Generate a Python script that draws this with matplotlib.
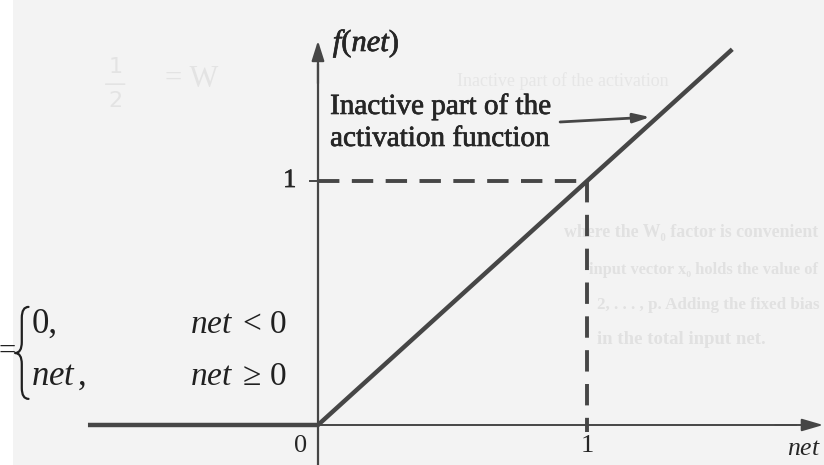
import matplotlib
matplotlib.use("Agg")
import matplotlib.pyplot as plt
import matplotlib.patheffects as pe
from matplotlib.patches import Rectangle, PathPatch
from matplotlib.path import Path

plt.rcParams["mathtext.fontset"] = "custom"
plt.rcParams["mathtext.rm"] = "Liberation Serif"
plt.rcParams["mathtext.it"] = "Liberation Serif:italic"

# ReLU curve: f(net) = max(0, net)
net_vals = [-0.855, 0.0, 1.54]
f_vals = [0.0, 0.0, 1.54]

# reference point (1, 1) marked with dashed guides
ref_x = 1.0
ref_y = 1.0

x_ticks = [0, 1]
x_tick_labels = ["0", "1"]
y_ticks = [1]
y_tick_labels = ["1"]

INK = "#464646"
TXT = "#262626"
SERIF = "Liberation Serif"
# slightly heavier printed look for the figure text
heavy = [pe.withStroke(linewidth=0.5, foreground=TXT)]

fig = plt.figure(figsize=(8.24, 4.65), dpi=100)
fig.patch.set_facecolor("#f3f3f3")
ax = fig.add_axes([0, 0, 1, 1])
ax.set_xlim(-1.182, 1.881)
ax.set_ylim(-0.164, 1.742)
ax.axis("off")
ax.set_facecolor("#f3f3f3")

# white margin strip on the left edge of the page
ax.add_patch(Rectangle((0, 0), 0.016, 1, transform=ax.transAxes,
                       facecolor="white", edgecolor="none", zorder=0))

# faint print showing through from the other side of the page
ghost = "#e1e1e1"
ghost_lines = [
    (0.685, 0.50, "where the W\u2080 factor is convenient"),
    (0.715, 0.42, "input vector x\u2080 holds the value of"),
    (0.725, 0.345, "2, . . . , p. Adding the fixed bias"),
    (0.725, 0.27, "in the total input net."),
]
renderer = fig.canvas.get_renderer()
fig_w = fig.bbox.width
for gx, gy, gt in ghost_lines:
    t = ax.text(gx, gy, gt, transform=ax.transAxes, fontsize=13.5, color=ghost,
                family=SERIF, fontweight="bold", ha="left", va="center",
                zorder=0.5)
    # shrink the line until it sits inside the page
    while t.get_window_extent(renderer).x1 > fig_w - 4 and t.get_fontsize() > 6:
        t.set_fontsize(t.get_fontsize() - 0.25)
ax.text(0.555, 0.815, "Inactive part of the activation", transform=ax.transAxes,
        fontsize=13, color="#e6e6e6", family=SERIF, zorder=0.5)
ax.text(0.14, 0.82, "1\n\u2014\n2", transform=ax.transAxes, fontsize=16,
        color="#e3e3e3", family="DejaVu Sans", ha="center", va="center",
        linespacing=0.8, zorder=0.5)
ax.text(0.20, 0.83, "= W", transform=ax.transAxes, fontsize=22,
        color="#e3e3e3", family=SERIF, ha="left", va="center", zorder=0.5)

# axes with arrow heads
ax.plot([0, 1.78], [0, 0], color=INK, lw=1.4, zorder=2, solid_capstyle="butt")
ax.annotate("", xy=(1.878, 0), xytext=(1.70, 0), annotation_clip=False,
            arrowprops=dict(arrowstyle="-|>,head_length=1.3,head_width=0.38",
                            color=INK, lw=1.4, shrinkA=0, shrinkB=0), zorder=3)
ax.plot([0, 0], [-0.17, 1.48], color=INK, lw=1.6, zorder=2, solid_capstyle="butt")
ax.annotate("", xy=(0, 1.575), xytext=(0, 1.40), annotation_clip=False,
            arrowprops=dict(arrowstyle="-|>,head_length=1.2,head_width=0.38",
                            color=INK, lw=1.6, shrinkA=0, shrinkB=0), zorder=3)

# ReLU line
ax.plot(net_vals, f_vals, color=INK, lw=3.2, zorder=4, solid_capstyle="butt")

# dashed guides to (1, 1)
ax.plot([0, ref_x], [ref_y, ref_y], color=INK, lw=2.8, dashes=(5.5, 3.2),
        zorder=3, dash_capstyle="butt")
ax.plot([ref_x, ref_x], [ref_y, -0.03], color=INK, lw=2.8, dashes=(5.5, 3.2),
        zorder=3, dash_capstyle="butt")
ax.plot([-0.03, 0], [ref_y, ref_y], color=INK, lw=1.4, zorder=3)

# tick labels
ax.text(x_ticks[0] - 0.065, -0.085, x_tick_labels[0], family=SERIF,
        fontsize=19, color=TXT, ha="center", va="center")
ax.text(x_ticks[1], -0.085, x_tick_labels[1], family=SERIF,
        fontsize=19, color=TXT, ha="center", va="center")
ax.text(-0.105, y_ticks[0], y_tick_labels[0], family=SERIF,
        fontsize=19, color=TXT, ha="center", va="center", path_effects=heavy)

# axis titles
ax.text(1.808, -0.095, "$net$", fontsize=18.5, color=TXT,
        ha="center", va="center")
ax.text(0.055, 1.565, "$f(net)$", fontsize=22, color=TXT,
        ha="left", va="center", path_effects=heavy)

# annotation
ax.text(0.045, 1.24, "Inactive part of the\nactivation function", family=SERIF,
        fontsize=21, color=TXT, ha="left", va="center", linespacing=1.3,
        path_effects=heavy)
ax.annotate("", xy=(1.235, 1.262), xytext=(0.90, 1.242),
            arrowprops=dict(arrowstyle="-|>,head_length=1.0,head_width=0.28",
                            color=INK, lw=2.0, shrinkA=0, shrinkB=0), zorder=5)

# piecewise definition
ax.text(-1.186, 0.30, "=", family=SERIF, fontsize=22, color="#202020",
        ha="left", va="center")

# curly brace grouping the two cases
b_top, b_mid, b_bot = 0.484, 0.295, 0.107
x_tip, x_stem, x_cusp = -1.076, -1.101, -1.126
d = 0.045
brace = Path(
    [(x_tip, b_top), (x_stem, b_top), (x_stem, b_top - d),
     (x_stem, b_mid + d), (x_stem, b_mid), (x_cusp, b_mid),
     (x_stem, b_mid), (x_stem, b_mid - d),
     (x_stem, b_bot + d), (x_stem, b_bot), (x_tip, b_bot)],
    [Path.MOVETO, Path.CURVE3, Path.CURVE3,
     Path.LINETO, Path.CURVE3, Path.CURVE3,
     Path.CURVE3, Path.CURVE3,
     Path.LINETO, Path.CURVE3, Path.CURVE3])
ax.add_patch(PathPatch(brace, facecolor="none", edgecolor="#202020",
                       lw=1.6, capstyle="round", joinstyle="round", zorder=5))

ax.text(-1.065, 0.377, "0,", family=SERIF, fontsize=25, color="#202020",
        ha="left", va="baseline")
ax.text(-1.065, 0.164, "$net\\,,$", fontsize=25, color="#202020",
        ha="left", va="baseline")
ax.text(-0.475, 0.377, "$net\\;<\\,0$", fontsize=24, color="#202020",
        ha="left", va="baseline")
ax.text(-0.475, 0.164, "$net\\;\\geq\\,0$", fontsize=24, color="#202020",
        ha="left", va="baseline")

fig.savefig("out.png", dpi=100, facecolor=fig.get_facecolor())
